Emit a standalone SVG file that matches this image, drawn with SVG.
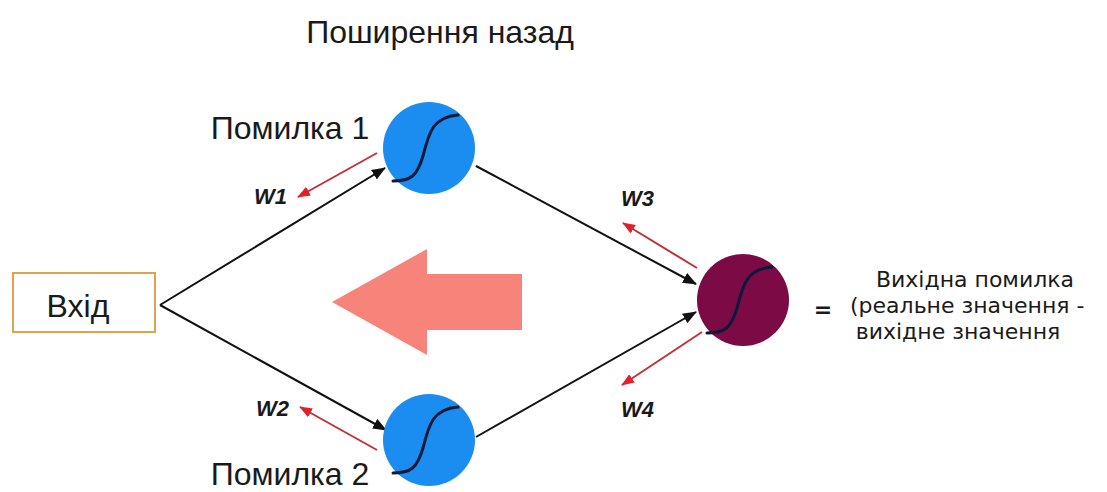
<svg xmlns="http://www.w3.org/2000/svg" width="1107" height="492" viewBox="0 0 1107 492">
  <style>
    .lbl { font-family: "Liberation Sans", Arial, sans-serif; fill: #1a1a1a; }
    .w { font-family: "Liberation Sans", Arial, sans-serif; font-weight: bold; font-style: italic; font-size: 22px; fill: #1a1a1a; }
    .note { font-family: "DejaVu Sans", Verdana, sans-serif; font-size: 22px; fill: #1a1a1a; }
    .link { stroke: #111; stroke-width: 2; fill: none; marker-end: url(#blk); }
    .back { stroke: #c4303a; stroke-width: 2; fill: none; marker-end: url(#red); }
    .sig { fill: none; stroke: #0b1a3a; stroke-width: 3; stroke-linecap: round; }
  </style>
  <defs>
    <marker id="blk" viewBox="0 0 14 11" refX="13" refY="5.5" markerWidth="14" markerHeight="11" markerUnits="userSpaceOnUse" orient="auto">
      <path d="M0,0 L14,5.5 L0,11 z" fill="#111"/>
    </marker>
    <marker id="red" viewBox="0 0 13 10" refX="12" refY="5" markerWidth="13" markerHeight="10" markerUnits="userSpaceOnUse" orient="auto">
      <path d="M0,0 L13,5 L0,10 z" fill="#e0202a"/>
    </marker>
  </defs>

  <rect width="1107" height="492" fill="#fff"/>

  <text class="lbl" x="440" y="43" font-size="32" text-anchor="middle">Поширення назад</text>

  <!-- backward-direction arrow -->
  <polygon points="332,302 427,249 427,274 522,274 522,330 427,330 427,355" fill="#f6847b"/>

  <g id="connectors">
    <line class="link" x1="160" y1="305" x2="385" y2="168"/>
    <line class="link" x1="160" y1="305" x2="386" y2="430"/>
    <line class="link" x1="476" y1="166" x2="696" y2="284"/>
    <line class="link" x1="476" y1="437" x2="696" y2="312"/>
    <line class="back" x1="377" y1="153" x2="298" y2="197"/>
    <line class="back" x1="377" y1="450" x2="300" y2="407"/>
    <line class="back" x1="697" y1="268" x2="623" y2="223"/>
    <line class="back" x1="702" y1="332" x2="622" y2="385"/>
    <text class="w" x="254" y="204">W1</text>
    <text class="w" x="256" y="416">W2</text>
    <text class="w" x="621" y="206">W3</text>
    <text class="w" x="621" y="417">W4</text>
  </g>

  <g id="input">
    <rect x="13" y="273" width="142" height="59" fill="#fff" stroke="#e0a24e" stroke-width="2"/>
    <text class="lbl" x="78" y="317" font-size="32" text-anchor="middle">Вхід</text>
  </g>

  <!-- sigmoid glyph shared by the neurons -->
  <g id="hidden1">
    <circle cx="429" cy="148" r="46" fill="#1b8df0"/>
    <path class="sig" transform="translate(429,148)" d="M-36,33 C-18,33 -12,28 -6,8 C0,-16 4,-31 29,-33"/>
    <text class="lbl" x="290" y="139" font-size="32" text-anchor="middle">Помилка 1</text>
  </g>

  <g id="hidden2">
    <circle cx="429" cy="440" r="46" fill="#1b8df0"/>
    <path class="sig" transform="translate(429,440)" d="M-36,33 C-18,33 -12,28 -6,8 C0,-16 4,-31 29,-33"/>
    <text class="lbl" x="290" y="485" font-size="32" text-anchor="middle">Помилка 2</text>
  </g>

  <g id="output">
    <circle cx="743" cy="300" r="46" fill="#7c0a45"/>
    <path class="sig" transform="translate(743,300)" d="M-36,33 C-18,33 -12,28 -6,8 C0,-16 4,-31 29,-33" stroke="#1a0510"/>
  </g>

  <g id="output-note">
    <text class="note" x="975" y="287" text-anchor="middle">Вихідна помилка</text>
    <text class="note" x="823" y="317" font-size="30" font-weight="bold" text-anchor="middle">=</text>
    <text class="note" x="850" y="313">(реальне значення -</text>
    <text class="note" x="958" y="339" text-anchor="middle">вихідне значення</text>
  </g>
</svg>
